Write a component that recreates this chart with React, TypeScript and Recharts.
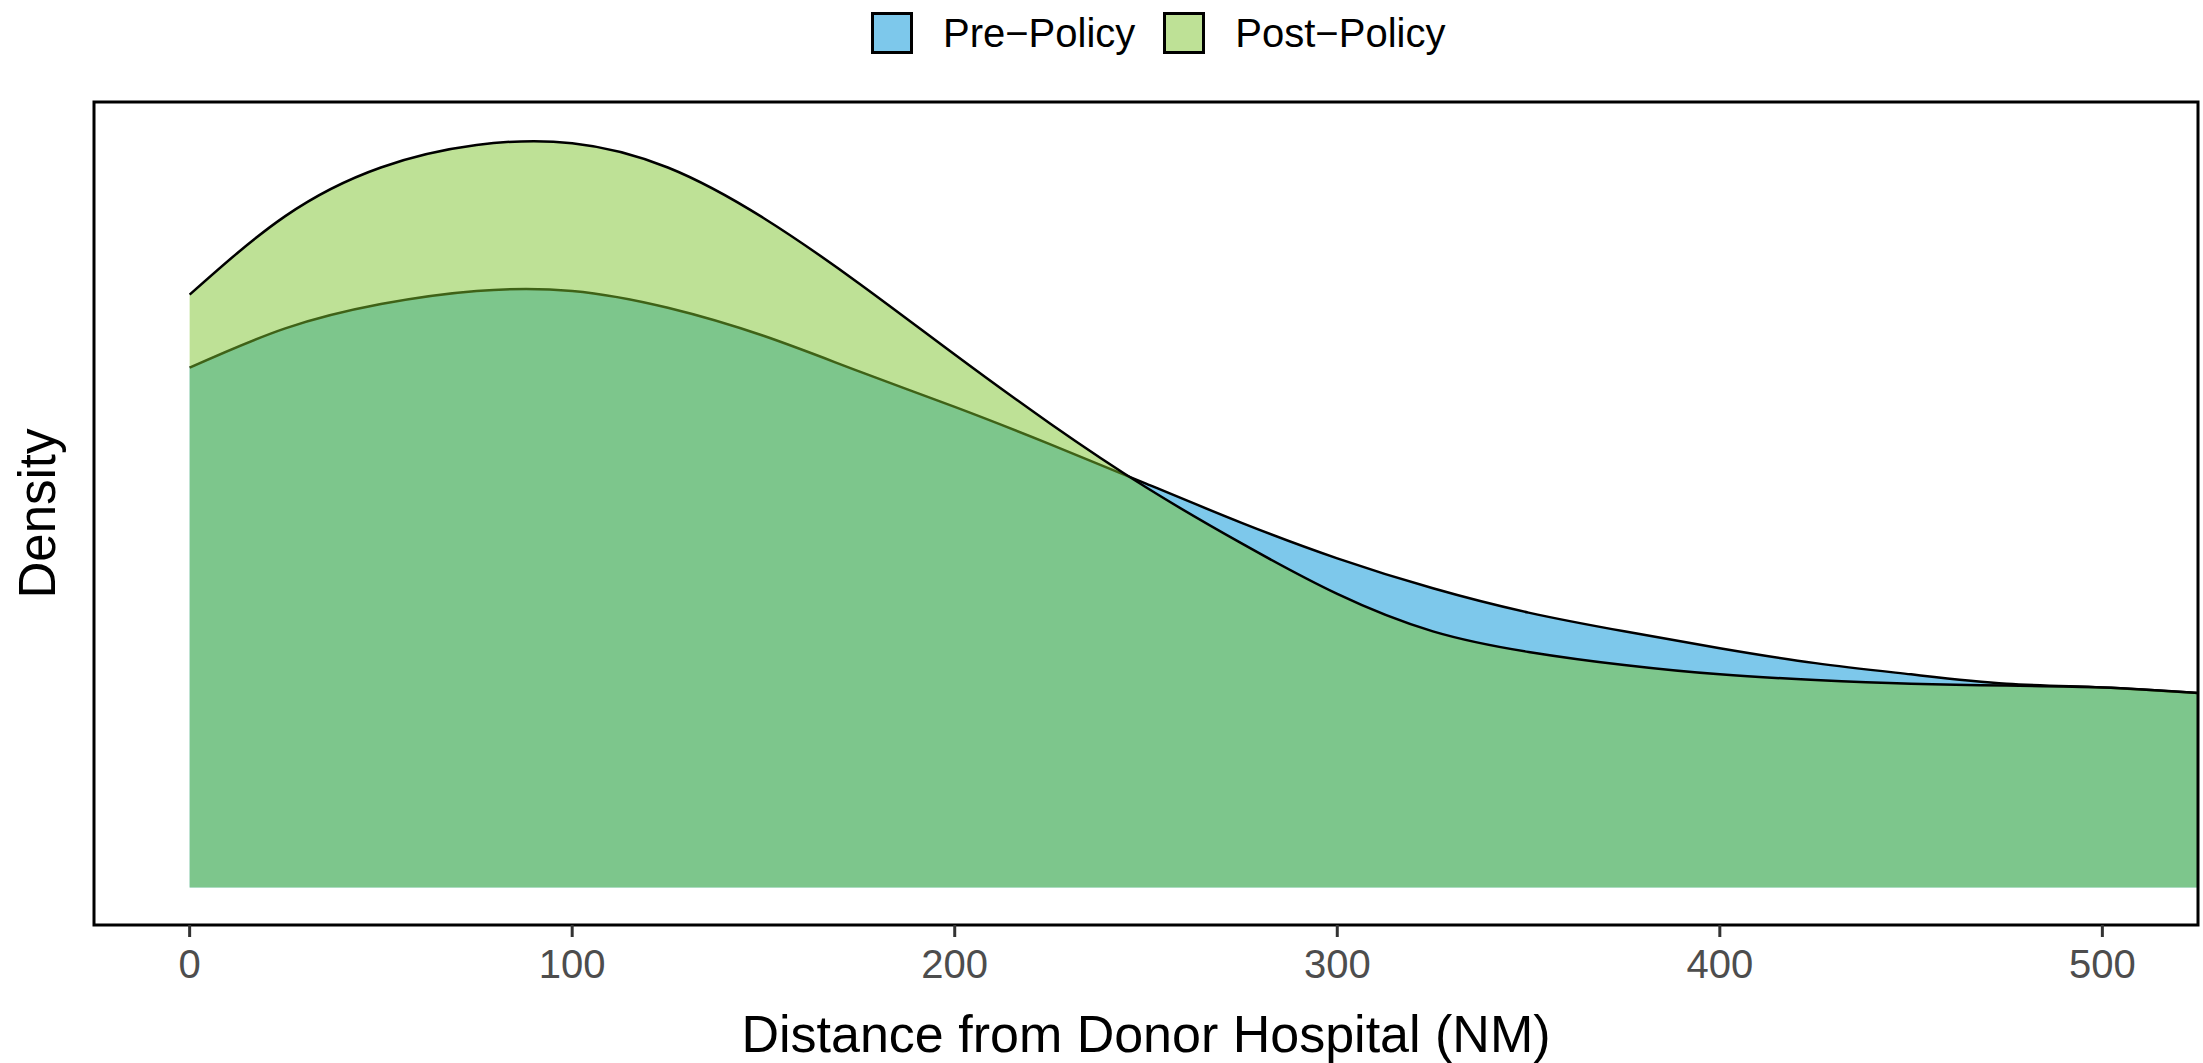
import { AreaChart, Area, XAxis, YAxis, Legend, ReferenceArea } from "recharts";

// distance from donor hospital (NM)
const distance = [
  0, 25, 50, 75, 100, 125, 150, 175, 200, 225, 250, 275, 300, 325, 350, 375,
  400, 425, 450, 475, 500, 525,
];

// kernel density estimates
const preDensity = [
  0.00278, 0.00299, 0.00312, 0.00319, 0.00319, 0.0031, 0.00295, 0.00276,
  0.00257, 0.00237, 0.00216, 0.00195, 0.00176, 0.0016, 0.00147, 0.00137,
  0.00128, 0.0012, 0.00114, 0.00109, 0.00107, 0.00104,
];
const postDensity = [
  0.00317, 0.00359, 0.00385, 0.00397, 0.00398, 0.00385, 0.00358, 0.00323,
  0.00285, 0.00248, 0.00214, 0.00184, 0.00157, 0.00137, 0.00126, 0.00119,
  0.00114, 0.00111, 0.00109, 0.00108, 0.00107, 0.00104,
];

const xTicks = [0, 100, 200, 300, 400, 500];
const seriesNames = ["Pre\u2212Policy", "Post\u2212Policy"];

const data = distance.map((d, i) => ({
  distance: d,
  pre: preDensity[i],
  post: postDensity[i],
}));

const FONT = "'Liberation Sans', Arial, sans-serif";
const PRE_FILL = "#7dc8eb";
const POST_FILL = "#7dc32d";
const POST_OPACITY = 0.5;

function LegendBox() {
  const swatches = ["#7dc8eb", "#bee196"];
  return (
    <div
      style={{
        height: 102,
        width: 2203,
        display: "flex",
        alignItems: "flex-start",
        fontFamily: FONT,
        fontSize: 40,
        color: "#000",
      }}
    >
      <div style={{ display: "flex", alignItems: "center", marginLeft: 871, marginTop: 12, height: 42 }}>
        {seriesNames.map((name, i) => (
          <div key={name} style={{ display: "flex", alignItems: "center", marginRight: 28 }}>
            <div
              style={{
                width: 36,
                height: 36,
                border: "3px solid #000",
                background: swatches[i],
                marginRight: 30,
              }}
            />
            <span style={{ lineHeight: "42px" }}>{name}</span>
          </div>
        ))}
      </div>
    </div>
  );
}

function XTitle(props: any) {
  const vb = props.viewBox || {};
  return (
    <text
      x={vb.x + vb.width / 2}
      y={1052}
      textAnchor="middle"
      fontFamily={FONT}
      fontSize={52}
      fill="#000"
    >
      Distance from Donor Hospital (NM)
    </text>
  );
}

function YTitle(props: any) {
  const vb = props.viewBox || {};
  const cy = vb.y + vb.height / 2;
  return (
    <text
      x={55}
      y={cy}
      transform={`rotate(-90, 55, ${cy})`}
      textAnchor="middle"
      fontFamily={FONT}
      fontSize={51}
      fill="#000"
    >
      Density
    </text>
  );
}

export default function App() {
  return (
    <div style={{ position: "absolute", left: 0, top: 0, width: 2203, height: 1063, background: "#fff" }}>
      <AreaChart width={2203} height={1063} data={data} margin={{ top: 0, right: 5, bottom: 0, left: 0 }}>
        <Legend
          verticalAlign="top"
          content={() => <LegendBox />}
          wrapperStyle={{ top: 0, left: 0, width: 2203, height: 102 }}
        />
        <XAxis
          dataKey="distance"
          type="number"
          domain={[-25, 525]}
          ticks={xTicks}
          allowDataOverflow
          height={138}
          axisLine={false}
          tickLine={{ stroke: "#333", strokeWidth: 3 }}
          tickSize={12}
          tickMargin={13}
          tick={{ fontSize: 40, fill: "#4d4d4d", fontFamily: FONT }}
          label={<XTitle />}
        />
        <YAxis
          type="number"
          domain={[-0.0002, 0.0042]}
          allowDataOverflow
          width={94}
          tick={false}
          axisLine={false}
          tickLine={false}
          label={<YTitle />}
        />
        <Area
          type="natural"
          dataKey="pre"
          name={seriesNames[0]}
          baseValue={0}
          fill={PRE_FILL}
          fillOpacity={1}
          stroke="#000"
          strokeWidth={2.5}
          isAnimationActive={false}
        />
        <Area
          type="natural"
          dataKey="post"
          name={seriesNames[1]}
          baseValue={0}
          fill={POST_FILL}
          fillOpacity={POST_OPACITY}
          stroke="#000"
          strokeWidth={2.5}
          isAnimationActive={false}
        />
        <ReferenceArea
          x1={-25}
          x2={525}
          y1={-0.0002}
          y2={0.0042}
          fill="none"
          stroke="#000"
          strokeWidth={3}
          ifOverflow="visible"
        />
      </AreaChart>
    </div>
  );
}
